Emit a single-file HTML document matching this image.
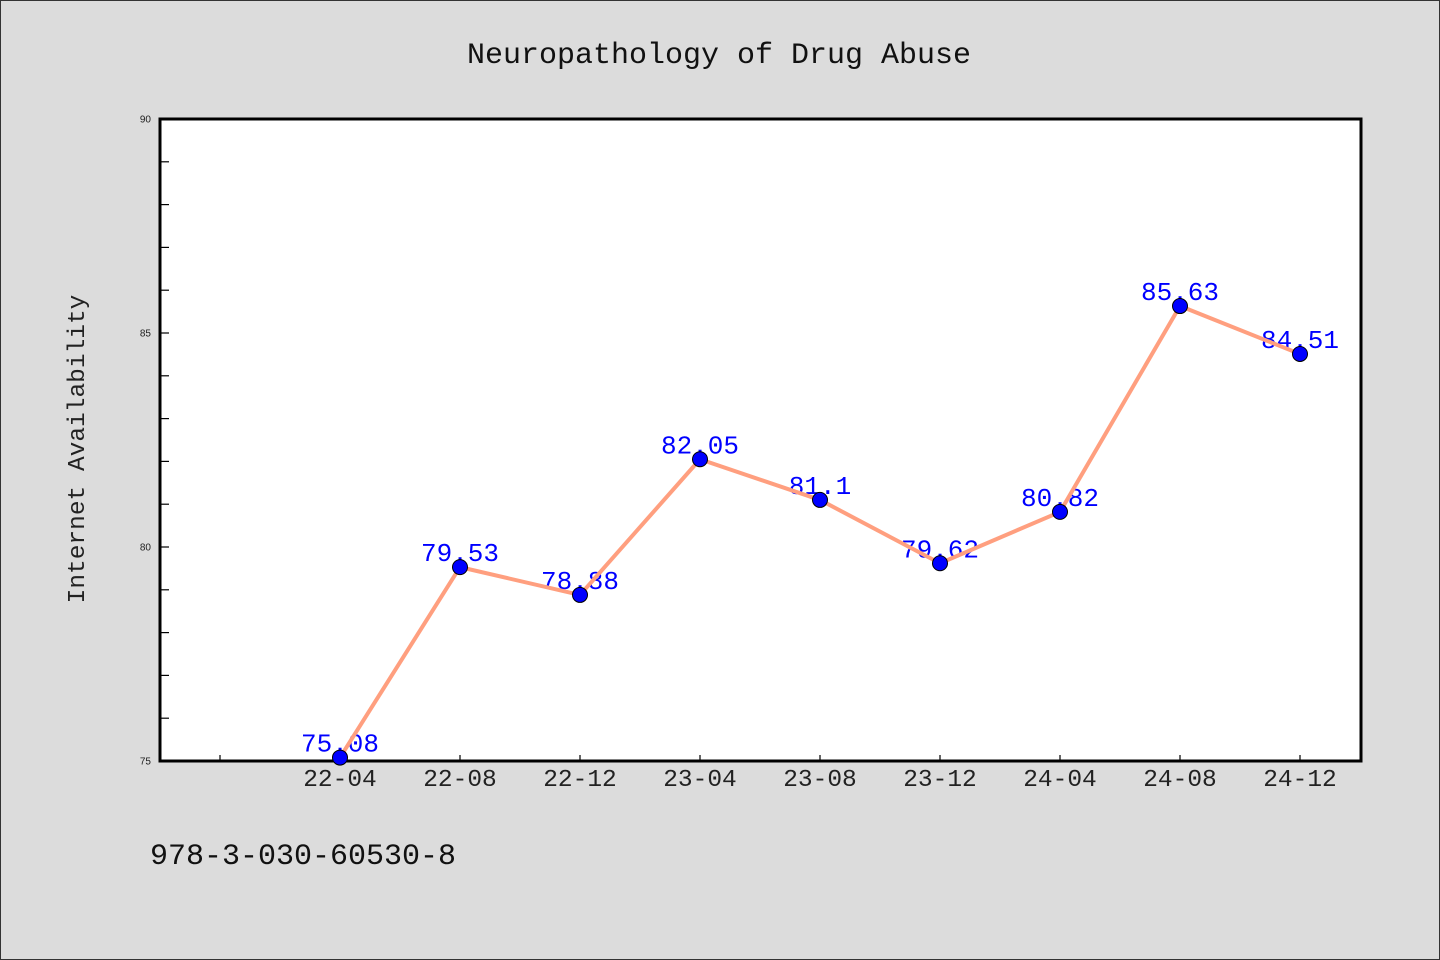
<!DOCTYPE html>
<html><head><meta charset="utf-8"><style>
html,body{margin:0;padding:0;}
body{width:1440px;height:960px;background:#dcdcdc;overflow:hidden;}
svg{display:block;}
</style></head><body>
<svg width="1440" height="960" xmlns="http://www.w3.org/2000/svg">
<rect x="0.5" y="0.5" width="1439" height="959" fill="#dcdcdc" stroke="#333"/>
<text x="719" y="63" text-anchor="middle" font-family="Liberation Mono, monospace" font-size="30" fill="#111">Neuropathology of Drug Abuse</text>
<rect x="160" y="119" width="1201" height="642" fill="#fff"/>
<g id="axes"></g>
<rect x="160" y="119" width="1201" height="642" fill="none" stroke="#000" stroke-width="3"/>
<text transform="translate(84,449) rotate(-90)" text-anchor="middle" font-family="Liberation Mono, monospace" font-size="24.5" fill="#222">Internet Availability</text>
<text x="150" y="864" font-family="Liberation Mono, monospace" font-size="30" fill="#111">978-3-030-60530-8</text>
<g id="series"></g>
</svg>
<script>
const categories = ["22-04","22-08","22-12","23-04","23-08","23-12","24-04","24-08","24-12"];
const values = [75.08,79.53,78.88,82.05,81.1,79.62,80.82,85.63,84.51];
const yTickLabels = [75,80,85,90];
const yMin = 75, yMax = 90;
const NS = "http://www.w3.org/2000/svg";
function xs(i){return 340 + i*120;}
function ys(v){return 761 - (v - yMin)/(yMax - yMin)*642;}
function mk(tag, attrs, parent){const e=document.createElementNS(NS,tag);for(const k in attrs)e.setAttribute(k,attrs[k]);parent.appendChild(e);return e;}
const axes=document.getElementById('axes');
for(let v=yMin+1; v<yMax; v++){
  const t=mk('line',{x1:160,x2:169,y1:ys(v),y2:ys(v),stroke:'#000','stroke-width':1.2},axes);
  
  
}
yTickLabels.forEach(v=>{
  const t=mk('text',{x:151,y:ys(v)+3.5,'text-anchor':'end','font-family':'Liberation Sans, sans-serif','font-size':10,fill:'#222'},axes);
  t.textContent=v;
  
  
});
for(let i=-1;i<categories.length;i++){
  const t=mk('line',{x1:xs(i),x2:xs(i),y1:761,y2:755,stroke:'#000','stroke-width':1.2},axes);
  
  
}
categories.forEach((c,i)=>{
  const t=mk('text',{x:xs(i),y:786,'text-anchor':'middle','font-family':'Liberation Mono, monospace','font-size':24.5,fill:'#222'},axes);
  t.textContent=c;
  
  
});
const series=document.getElementById('series');
const pts=values.map((v,i)=>xs(i)+','+ys(v)).join(' ');
const line=mk('polyline',{points:pts,fill:'none',stroke:'#ff9f7f','stroke-width':4,'stroke-linejoin':'round'},series);


values.forEach((v,i)=>{
  const lab=mk('text',{x:xs(i),y:ys(v)-6,'text-anchor':'middle','font-family':'Liberation Mono, monospace','font-size':26,fill:'#0000ff'},series);
  lab.textContent=v;
  
  
});
line.parentNode.appendChild(line);
values.forEach((v,i)=>{
  const c=mk('circle',{cx:xs(i),cy:ys(v),r:7.5,fill:'#0000ff',stroke:'#000','stroke-width':1},series);
  
  
});
</script>
</body></html>
